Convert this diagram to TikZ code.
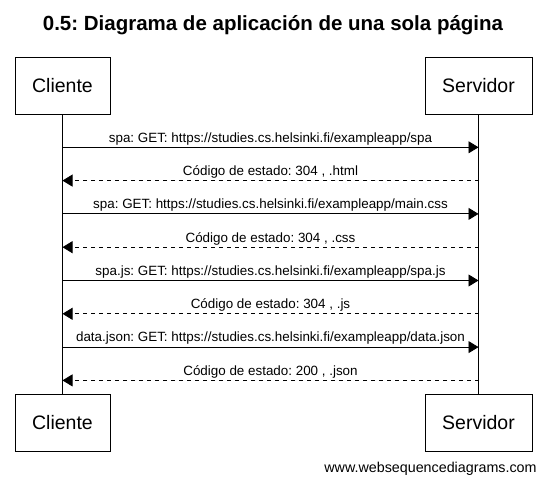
\documentclass[tikz,border=0pt]{standalone}
\usepackage{fontspec}
\setmainfont{Liberation Sans}
\usetikzlibrary{arrows.meta, positioning}
\frenchspacing

\begin{document}
\begin{tikzpicture}[x=1pt, y=-1pt, line width=0.8pt,
    actor/.style={draw, minimum height=57pt, inner sep=0pt, font=\fontsize{19.5}{22}\selectfont},
    msg/.style={-{Triangle[length=10pt,width=12pt]}},
    reply/.style={msg, dash pattern=on 4pt off 4pt},
    lbl/.style={font=\fontsize{13.4}{15}\selectfont, above, inner sep=2pt}]
        \useasboundingbox (0,0) rectangle (547,486);

        \node[font=\bfseries\fontsize{20.5}{24}\selectfont] (title) at (273,25) {0.5: Diagrama de aplicación de una sola página};

        \node[actor, minimum width=95pt] (cliTop) at (62.5,85.5) {Cliente};
        \node[actor, minimum width=107pt] (srvTop) at (478.5,85.5) {Servidor};
        \node[actor, minimum width=95pt] (cliBot) at (62.5,422.5) {Cliente};
        \node[actor, minimum width=107pt] (srvBot) at (478.5,422.5) {Servidor};

        \draw[] (cliTop) -- (cliBot);
        \draw[] (srvTop) -- (srvBot);

        \foreach \i in {1,...,8} {
            \coordinate (c\i) at (cliTop.south |- {0,114+33.3*\i});
            \coordinate (s\i) at (srvTop.south |- {0,114+33.3*\i});
        }

        \foreach \i/\from/\to/\kind/\txt in {
            1/c/s/msg/{spa: GET: https://studies.cs.helsinki.fi/exampleapp/spa},
            2/s/c/reply/{Código de estado: 304 , .html},
            3/c/s/msg/{spa: GET: https://studies.cs.helsinki.fi/exampleapp/main.css},
            4/s/c/reply/{Código de estado: 304 , .css},
            5/c/s/msg/{spa.js: GET: https://studies.cs.helsinki.fi/exampleapp/spa.js},
            6/s/c/reply/{Código de estado: 304 , .js},
            7/c/s/msg/{data.json: GET: https://studies.cs.helsinki.fi/exampleapp/data.json},
            8/s/c/reply/{Código de estado: 200 , .json}} {
            \draw[\kind] (\from\i) -- (\to\i) node[midway, lbl]{\txt};
        }

        \node[anchor=east, inner sep=0pt, font=\fontsize{14.3}{16}\selectfont] (site) at (537,469) {www.websequencediagrams.com};
\end{tikzpicture}
\end{document}
